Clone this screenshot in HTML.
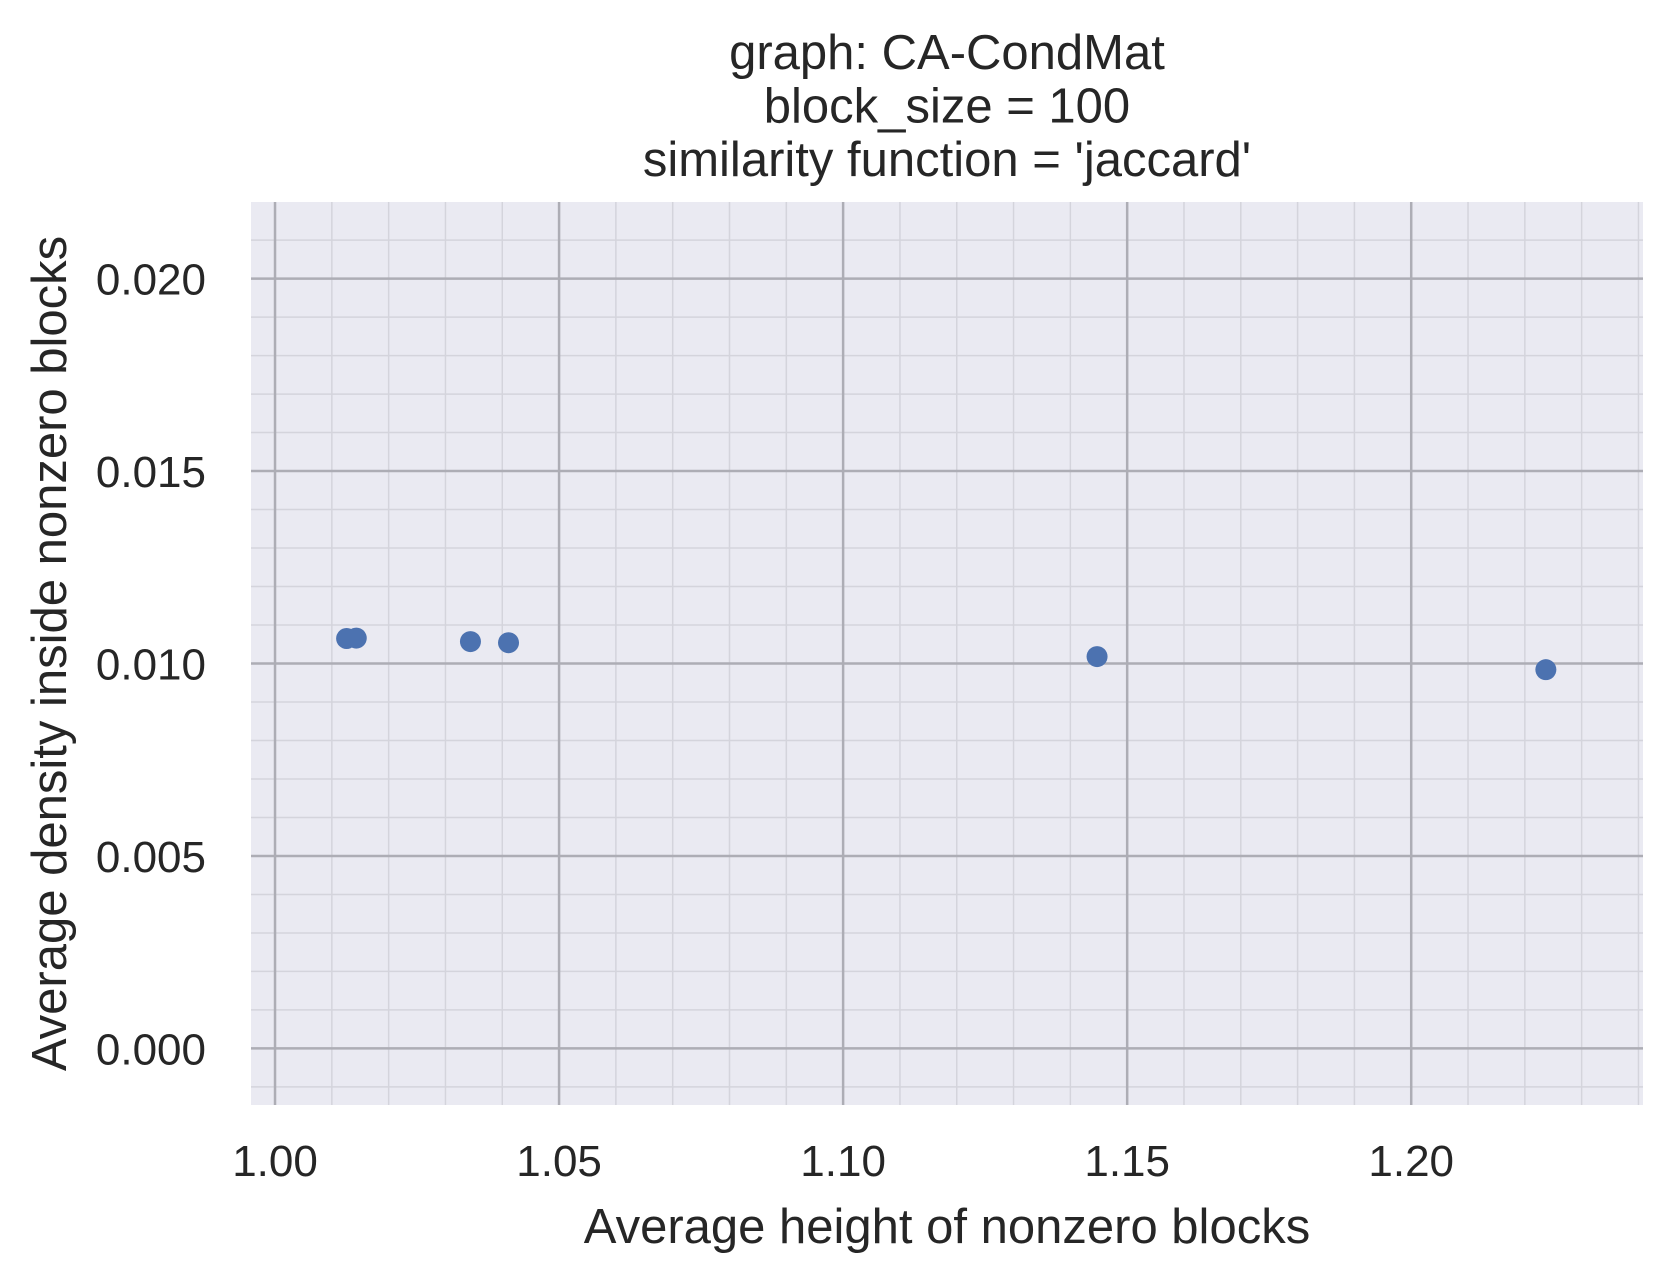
<!DOCTYPE html>
<html><head><meta charset="utf-8"><style>
body{margin:0;background:#fff;}
svg text{font-family:"Liberation Sans",sans-serif;fill:#262626;}
</style></head><body>
<svg width="1672" height="1279" viewBox="0 0 1672 1279" xmlns="http://www.w3.org/2000/svg">
<g id="plot"></g>
</svg>
<script>
const xValues=[1.0126,1.0143,1.0344,1.0411,1.1447,1.2237];
const yValues=[0.01065,0.01066,0.01057,0.01054,0.01018,0.00984];
const xTicks=[1.00,1.05,1.10,1.15,1.20];
const xTickLabels=["1.00","1.05","1.10","1.15","1.20"];
const yTicks=[0.000,0.005,0.010,0.015,0.020];
const yTickLabels=["0.000","0.005","0.010","0.015","0.020"];
const L=251,R=1643,T=202,B=1105;
const xmin=0.99577,xmax=1.2408,ymin=-0.00147,ymax=0.02199;
const sx=v=>L+(v-xmin)/(xmax-xmin)*(R-L);
const sy=v=>B-(v-ymin)/(ymax-ymin)*(B-T);
const NS="http://www.w3.org/2000/svg";
const svg=document.querySelector('svg');
function mk(tag,attrs,parent){const e=document.createElementNS(NS,tag);for(const k in attrs)e.setAttribute(k,attrs[k]);(parent||svg).appendChild(e);return e;}
const bg=mk('rect',{x:L,y:T,width:R-L,height:B-T,fill:'#eaeaf2'});


for(let i=-1;i<=25;i++){const v=1+i*0.01;if(v<xmin||v>xmax||i%5===0)continue;
const l=mk('line',{x1:sx(v),x2:sx(v),y1:T,y2:B,stroke:'#d4d4dc','stroke-width':1.5});

}
for(let i=-2;i<=22;i++){const v=i*0.001;if(v<ymin||v>ymax||i%5===0)continue;
const l=mk('line',{x1:L,x2:R,y1:sy(v),y2:sy(v),stroke:'#d4d4dc','stroke-width':1.5});

}
xTicks.forEach((v,i)=>{
const l=mk('line',{x1:sx(v),x2:sx(v),y1:T,y2:B,stroke:'#adadb5','stroke-width':2.5});


const t=mk('text',{x:sx(v),y:1176,'font-size':44,'text-anchor':'middle'});t.textContent=xTickLabels[i];

});
yTicks.forEach((v,i)=>{
const l=mk('line',{x1:L,x2:R,y1:sy(v),y2:sy(v),stroke:'#adadb5','stroke-width':2.5});


const t=mk('text',{x:206,y:sy(v)+16,'font-size':44,'text-anchor':'end'});t.textContent=yTickLabels[i];

});
xValues.forEach((v,i)=>{
const c=mk('circle',{cx:sx(v),cy:sy(yValues[i]),r:10.5,fill:'#4c72b0'});

});
const titles=["graph: CA-CondMat","block_size = 100","similarity function = 'jaccard'"];
titles.forEach((s,i)=>{const t=mk('text',{x:(L+R)/2,y:69+i*53.5,'font-size':49,'text-anchor':'middle'});t.textContent=s;

});
const xl=mk('text',{x:(L+R)/2,y:1243,'font-size':49,'text-anchor':'middle'});xl.textContent='Average height of nonzero blocks';


const yl=mk('text',{x:0,y:0,'font-size':49,'text-anchor':'middle',transform:`translate(66,${(T+B)/2}) rotate(-90)`});yl.textContent='Average density inside nonzero blocks';


</script>
</body></html>
